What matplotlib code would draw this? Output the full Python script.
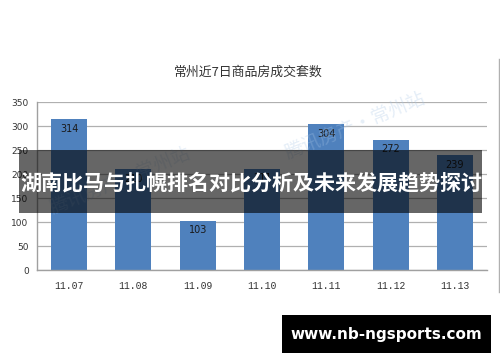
import numpy as np
import matplotlib.pyplot as plt
from matplotlib.patches import Rectangle
from matplotlib.lines import Line2D

plt.rcParams['font.family'] = ['Noto Sans CJK SC', 'DejaVu Sans']

# data
dates = ['11.07', '11.08', '11.09', '11.10', '11.11', '11.12', '11.13']
sales = [314, 210, 103, 211, 304, 272, 239]
y_ticks = [0, 50, 100, 150, 200, 250, 300, 350]
title = '常州近7日商品房成交套数'
banner_text = '湖南比马与扎幌排名对比分析及未来发展趋势探讨'
site_text = 'www.nb-ngsports.com'
watermark = '腾讯房产·常州站'

fig = plt.figure(figsize=(5, 3.62), dpi=100)
ax = fig.add_axes([0.074, 0.254, 0.9, 0.464])

x = np.arange(len(dates))
bars = ax.bar(x, sales, width=0.56, color='#4F81BD', zorder=2)
for b, v in zip(bars, sales):
    ax.text(b.get_x() + b.get_width() / 2, v - 20, str(v), ha='center', va='center',
            fontsize=7, color='#1a1a1a', family='DejaVu Sans', zorder=3)

ax.set_xlim(-0.5, len(dates) - 0.5)
ax.set_ylim(0, 350)
ax.set_yticks(y_ticks)
ax.set_yticklabels([str(t) for t in y_ticks], fontsize=6.5, color='#333333', family='DejaVu Sans')
ax.set_xticks(x)
ax.set_xticklabels(dates, fontsize=7, color='#333333', family='Liberation Mono')
ax.tick_params(axis='both', length=0, pad=8)
ax.tick_params(axis='y', pad=6)
ax.yaxis.grid(True, color='#b0b0b0', linewidth=0.9, zorder=0)
ax.set_axisbelow(True)
for s in ['top', 'right']:
    ax.spines[s].set_visible(False)
for s in ['left', 'bottom']:
    ax.spines[s].set_color('#a0a0a0')
    ax.spines[s].set_linewidth(1.0)

fig.text(0.496, 0.8, title, ha='center', va='center', fontsize=9.3, color='#333333')

# chart frame right edge
fig.add_artist(Line2D([0.997, 0.997], [1 - 59 / 362, 1 - 292 / 362], color='#b0b0b0',
                      linewidth=1.0, transform=fig.transFigure))

# faint watermarks
fig.text(0.71, 0.65, watermark, ha='center', va='center', fontsize=13.5, color='#a9c6e6',
         alpha=0.3, rotation=22, zorder=1)
fig.text(0.24, 0.5, watermark, ha='center', va='center', fontsize=13.5, color='#a9c6e6',
         alpha=0.25, rotation=22, zorder=1)

# overlay banner
fig.add_artist(Rectangle((19 / 500, 1 - 213 / 362), 463 / 500, 63 / 362,
                         transform=fig.transFigure, facecolor='black', alpha=0.6,
                         edgecolor='none', zorder=5))
fig.text(251 / 500, 1 - 183 / 362, banner_text, ha='center', va='center',
         fontsize=15.15, fontweight='bold', color='white', zorder=6)

# site box
fig.add_artist(Rectangle((282 / 500, 1 - 353 / 362), 209 / 500, 38 / 362,
                         transform=fig.transFigure, facecolor='black',
                         edgecolor='none', zorder=5))
fig.text(386 / 500, 1 - 334 / 362, site_text, ha='center', va='center',
         fontsize=11, fontweight='bold', color='white', family='DejaVu Sans', zorder=6)

fig.savefig('out.png', dpi=100)
